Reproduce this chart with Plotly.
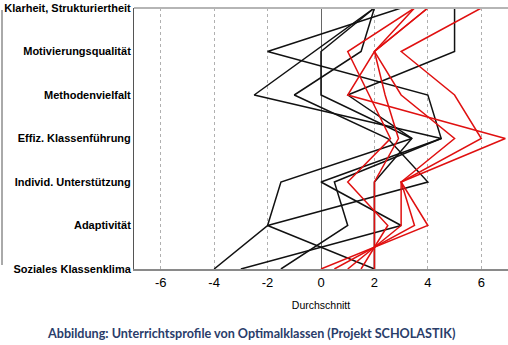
import plotly.graph_objects as go

categories = ["Klarheit, Strukturiertheit", "Motivierungsqualität", "Methodenvielfalt",
              "Effiz. Klassenführung", "Individ. Unterstützung", "Adaptivität",
              "Soziales Klassenklima"]

black_1 = [3, -2, 4, 4.5, 0, 3, -3]
black_2 = [5, 5, 1, 3.4, 2, 2, 2]
black_3 = [2, 0, 0, 3.4, -1.5, -2, -4]
black_4 = [2, 1.5, -1, 2.5, 4, -2, 2]
black_5 = [2, -0.25, -2.5, 4.5, 0.5, 1, -1.5]

red_1 = [6, 3, 5, 6, 3, 4, 0]
red_2 = [4, 2, 3, 5, 3, 3, 1]
red_3 = [3.5, 1, 1.8, 2.6, 1, 2.5, 1.5]
red_4 = [4, 2, 1, 6.9, 3, 3.5, 0.5]
red_5 = [3.5, 2, 2.4, 2.9, 2, 2, 2]

x_ticks = [-6, -4, -2, 0, 2, 4, 6]

fig = go.Figure()
for vals in [black_1, black_2, black_3, black_4, black_5]:
    fig.add_trace(go.Scatter(x=vals, y=categories, mode="lines",
                             line=dict(color="#111111", width=1.5), hoverinfo="skip"))
for vals in [red_1, red_2, red_3, red_4, red_5]:
    fig.add_trace(go.Scatter(x=vals, y=categories, mode="lines",
                             line=dict(color="#e01010", width=1.5), hoverinfo="skip"))

L, R, T, B = 134, 0, 8, 76
W, H = 508, 345
pw = W - L - R

fig.update_layout(
    width=W, height=H,
    margin=dict(l=L, r=R, t=T, b=B),
    paper_bgcolor="white", plot_bgcolor="white",
    showlegend=False,
    font=dict(family="Liberation Sans, Arial, sans-serif", color="black"),
    xaxis=dict(range=[-7, 7], tickvals=x_ticks, ticktext=[str(v) for v in x_ticks],
               tickfont=dict(size=13), ticks="", showgrid=True, gridcolor="#b0b0b0",
               griddash="dot", gridwidth=1, zeroline=True, zerolinecolor="#666666",
               zerolinewidth=1, showline=True, linecolor="#8a8a8a", linewidth=2,
               title=dict(text="Durchschnitt", font=dict(size=10.5), standoff=13)),
    yaxis=dict(type="category", categoryorder="array", categoryarray=categories[::-1],
               range=[0, 6], showgrid=False, zeroline=False, showline=True,
               linecolor="#555555", linewidth=1, ticks="",
               tickfont=dict(size=11, weight="bold",
                             family="Liberation Sans, Arial, sans-serif")),
)

# top border line
fig.add_shape(type="line", xref="paper", yref="paper", x0=0, x1=1, y0=1, y1=1,
              line=dict(color="#b5b5b5", width=2))
# left bracket line
fig.add_shape(type="line", xref="paper", yref="paper",
              x0=(2 - L) / pw, x1=(2 - L) / pw, y0=(269 - 265) / 261, y1=(269 - 10) / 261,
              line=dict(color="#555555", width=1))

fig.add_annotation(text="<b>Abbildung: Unterrichtsprofile von Optimalklassen (Projekt SCHOLASTIK)</b>",
                   xref="paper", yref="paper", x=(251 - L) / pw, y=-(333 - 269) / 261,
                   xanchor="center", yanchor="middle", showarrow=False,
                   font=dict(family="Lato, Open Sans, sans-serif", size=12.6, color="#2a3d6a"))

fig.write_html("out.html")
